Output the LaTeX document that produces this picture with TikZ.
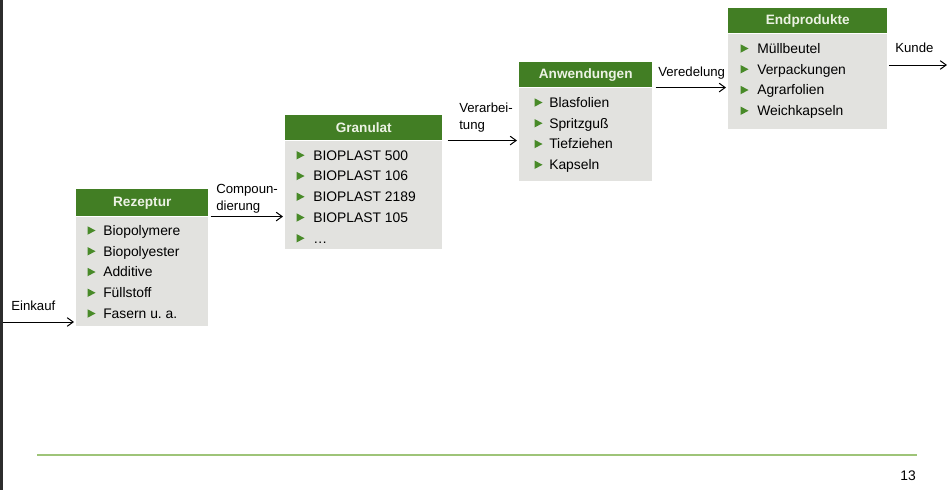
\documentclass[tikz,border=0pt]{standalone}
\usepackage{fontspec}
\setmainfont{Liberation Sans}
\usetikzlibrary{arrows.meta}
\frenchspacing

\definecolor{kopfgruen}{RGB}{66,126,36}
\definecolor{kopftext}{RGB}{236,242,228}
\definecolor{rumpfgrau}{RGB}{226,226,223}
\definecolor{punktgruen}{RGB}{72,138,40}
\definecolor{liniengruen}{RGB}{158,196,120}
\definecolor{randgrau}{RGB}{45,45,45}

\tikzset{
  kopf/.style={anchor=north west, fill=kopfgruen, text=kopftext, inner sep=0pt,
    font=\bfseries\fontsize{10.2}{12}\selectfont},
  rumpf/.style={anchor=north west, fill=rumpfgrau, inner sep=0pt},
  eintrag/.style={anchor=base west, inner sep=0pt, font=\fontsize{10.4}{12}\selectfont},
  beschr/.style={anchor=north west, inner sep=0.75pt, align=left,
    font=\fontsize{9.9}{12.75}\selectfont},
  pfeil/.style={-{Straight Barb[length=4.5pt,width=6.5pt]}, line width=0.75pt, shorten >=1.5pt},
  punkt/.style={fill=punktgruen}
}

\begin{document}
\begin{tikzpicture}[x=0.75pt,y=0.75pt,yscale=-1,xscale=1]
\path[use as bounding box] (0,0) rectangle (947,490);

%Left edge
\draw[randgrau, line width=1.9pt] (1.3,0) -- (1.3,490);

%Boxes
\node[kopf, minimum width=99pt, minimum height=20.25pt] (rezkopf) at (76,189) {Rezeptur};
\node[rumpf, minimum width=99pt, minimum height=81.75pt] (rezrumpf) at (rezkopf.south west) {};
\node[kopf, minimum width=117.75pt, minimum height=18.75pt] (grankopf) at (285,115) {Granulat};
\node[rumpf, minimum width=117.75pt, minimum height=81pt] (granrumpf) at (grankopf.south west) {};
\node[kopf, minimum width=99.75pt, minimum height=18.75pt] (anwkopf) at (519,62) {Anwendungen};
\node[rumpf, minimum width=99.75pt, minimum height=69.75pt] (anwrumpf) at (anwkopf.south west) {};
\node[kopf, minimum width=119.25pt, minimum height=18.75pt] (endkopf) at (728,8) {Endprodukte};
\node[rumpf, minimum width=119.25pt, minimum height=71.25pt] (endrumpf) at (endkopf.south west) {};

%Items
\foreach \t [count=\i, evaluate=\i as \yb using 214.5+20.75*\i] in
    {Biopolymere, Biopolyester, Additive, Füllstoff, Fasern u. a.}{
  \fill[punkt] (87.5,\yb-9) -- (87.5,\yb-0.5) -- (95.5,\yb-4.75) -- cycle;
  \node[eintrag] (rez-\i) at (103,\yb) {\t};
}
\foreach \t [count=\i, evaluate=\i as \yb using 139.25+20.75*\i] in
    {BIOPLAST 500, BIOPLAST 106, BIOPLAST 2189, BIOPLAST 105, {\ldots}}{
  \fill[punkt] (296.5,\yb-9) -- (296.5,\yb-0.5) -- (304.5,\yb-4.75) -- cycle;
  \node[eintrag] (gran-\i) at (313,\yb) {\t};
}
\foreach \t [count=\i, evaluate=\i as \yb using 86.5+20.75*\i] in
    {Blasfolien, Spritzguß, Tiefziehen, Kapseln}{
  \fill[punkt] (534.5,\yb-9) -- (534.5,\yb-0.5) -- (542.5,\yb-4.75) -- cycle;
  \node[eintrag] (anw-\i) at (549,\yb) {\t};
}
\foreach \t [count=\i, evaluate=\i as \yb using 32.5+20.75*\i] in
    {Müllbeutel, Verpackungen, Agrarfolien, Weichkapseln}{
  \fill[punkt] (740.5,\yb-9) -- (740.5,\yb-0.5) -- (748.5,\yb-4.75) -- cycle;
  \node[eintrag] (end-\i) at (757,\yb) {\t};
}

%Arrows
\coordinate (einkauf) at (3,322);
\coordinate (kunde) at (947,65);
\draw[pfeil] (einkauf) -- (einkauf -| rezrumpf.west);
\draw[pfeil] ([xshift=1.5pt]rezkopf.south east) -- (rezkopf.south east -| granrumpf.west);
\draw[pfeil] ([xshift=3.75pt]grankopf.south east) -- (grankopf.south east -| anwrumpf.west);
\draw[pfeil] ([xshift=2.25pt]anwkopf.south east) -- (anwkopf.south east -| endrumpf.west);
\draw[pfeil, shorten >=0pt] ([xshift=1pt]endrumpf.east |- kunde) -- (kunde);

% Text Node
\node[beschr] (einkauf-l) at (10,300) {Einkauf};
% Text Node
\node[beschr] (comp-l) at (215,183.5) {Compoun-\\dierung};
% Text Node
\node[beschr] (verarb-l) at (458,101.5) {Verarbei-\\tung};
% Text Node
\node[beschr] (vered-l) at (657,65.5) {Veredelung};
% Text Node
\node[beschr] (kunde-l) at (894,41.5) {Kunde};

%Footer
\draw[liniengruen, line width=1pt] (37,455) -- (917,455);
\node[font=\fontsize{10.4}{12}\selectfont, inner sep=0pt] (seite) at (908,476) {13};
\end{tikzpicture}
\end{document}
